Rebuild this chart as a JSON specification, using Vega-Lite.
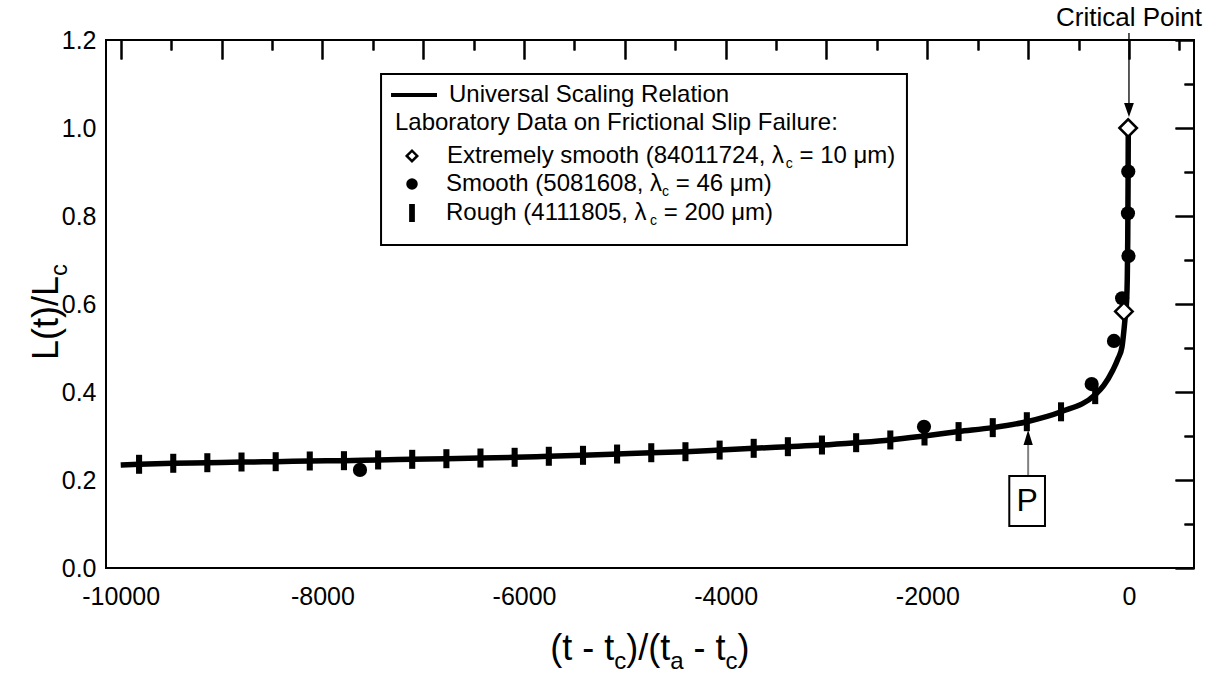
{
  "$schema": "https://vega.github.io/schema/vega-lite/v6.json",
  "width": 1088,
  "height": 528,
  "autosize": "none",
  "padding": {"left": 106, "top": 40, "right": 18, "bottom": 107},
  "background": "white",
  "datasets": {
    "curve": [
      {"x": -10000, "y": 0.234}, {"x": -9818, "y": 0.2357}, {"x": -9479, "y": 0.238}, {"x": -9141, "y": 0.2393},
      {"x": -8802, "y": 0.2409}, {"x": -8463, "y": 0.2416}, {"x": -8125, "y": 0.2432}, {"x": -7786, "y": 0.2439},
      {"x": -7447, "y": 0.2455}, {"x": -7109, "y": 0.247}, {"x": -6770, "y": 0.2484}, {"x": -6432, "y": 0.25},
      {"x": -6093, "y": 0.2516}, {"x": -5754, "y": 0.2539}, {"x": -5415, "y": 0.2561}, {"x": -5077, "y": 0.259},
      {"x": -4738, "y": 0.262}, {"x": -4399, "y": 0.2643}, {"x": -4060, "y": 0.268}, {"x": -3722, "y": 0.272},
      {"x": -3383, "y": 0.2757}, {"x": -3045, "y": 0.2795}, {"x": -2706, "y": 0.2848}, {"x": -2367, "y": 0.291},
      {"x": -2028, "y": 0.3}, {"x": -1690, "y": 0.31}, {"x": -1351, "y": 0.319}, {"x": -1013, "y": 0.3325},
      {"x": -674, "y": 0.355}, {"x": -335, "y": 0.394}, {"x": -250, "y": 0.415}, {"x": -159, "y": 0.45},
      {"x": -110, "y": 0.475}, {"x": -69, "y": 0.503}, {"x": -40, "y": 0.5636}, {"x": -23, "y": 0.609},
      {"x": -17, "y": 0.655}, {"x": -12, "y": 0.75}, {"x": -9, "y": 0.87}, {"x": -7, "y": 0.985}
    ],
    "rough": [
      {"x": -9818, "y": 0.2357}, {"x": -9479, "y": 0.238}, {"x": -9141, "y": 0.2393}, {"x": -8802, "y": 0.2409},
      {"x": -8463, "y": 0.2416}, {"x": -8125, "y": 0.2432}, {"x": -7786, "y": 0.2439}, {"x": -7447, "y": 0.2455},
      {"x": -7109, "y": 0.247}, {"x": -6770, "y": 0.2484}, {"x": -6432, "y": 0.25}, {"x": -6093, "y": 0.2516},
      {"x": -5754, "y": 0.2539}, {"x": -5415, "y": 0.2561}, {"x": -5077, "y": 0.259}, {"x": -4738, "y": 0.262},
      {"x": -4399, "y": 0.2643}, {"x": -4060, "y": 0.268}, {"x": -3722, "y": 0.272}, {"x": -3383, "y": 0.2757},
      {"x": -3045, "y": 0.2795}, {"x": -2706, "y": 0.2848}, {"x": -2367, "y": 0.291}, {"x": -2028, "y": 0.3},
      {"x": -1690, "y": 0.31}, {"x": -1351, "y": 0.319}, {"x": -1013, "y": 0.3325}, {"x": -674, "y": 0.355},
      {"x": -335, "y": 0.394}
    ],
    "smooth": [
      {"x": -7627, "y": 0.223}, {"x": -2033, "y": 0.321}, {"x": -370, "y": 0.418}, {"x": -149, "y": 0.516},
      {"x": -68, "y": 0.613}, {"x": -5, "y": 0.709}, {"x": -10, "y": 0.806}, {"x": -7, "y": 0.901}
    ],
    "extreme": [
      {"x": -50, "y": 0.583}, {"x": -8, "y": 1.0}
    ],
    "one": [{}]
  },
  "config": {
    "view": {"stroke": "black", "strokeWidth": 2},
    "font": "Liberation Sans",
    "axis": {"grid": false, "labelColor": "black", "tickColor": "black", "tickWidth": 2, "labelFont": "Liberation Sans", "labelFlush": false, "labelOverlap": false, "labelBound": false}
  },
  "resolve": {"axis": {"x": "independent", "y": "independent"}},
  "layer": [
    {
      "data": {"name": "curve"},
      "mark": {"type": "line", "color": "black", "strokeWidth": 5.5, "interpolate": "monotone"},
      "encoding": {
        "x": {"field": "x", "type": "quantitative", "scale": {"domain": [-10146, 645], "nice": false, "zero": false},
              "axis": {"values": [-10000, -8000, -6000, -4000, -2000, 0], "labelExpr": "'' + datum.value", "ticks": false, "domain": false, "labelFontSize": 25, "labelPadding": 16, "title": null}},
        "y": {"field": "y", "type": "quantitative", "scale": {"domain": [0, 1.2], "nice": false, "zero": false},
              "axis": {"values": [0, 0.2, 0.4, 0.6, 0.8, 1.0, 1.2], "format": ".1f", "ticks": false, "domain": false, "labelFontSize": 25, "labelPadding": 10, "title": null}}
      }
    },
    {
      "data": {"name": "rough"},
      "mark": {"type": "point", "shape": "M-0.32,-1L0.32,-1L0.32,1L-0.32,1Z", "size": 361, "filled": true, "color": "black", "opacity": 1},
      "encoding": {
        "x": {"field": "x", "type": "quantitative",
              "axis": {"values": [-10000, -9000, -8000, -7000, -6000, -5000, -4000, -3000, -2000, -1000, 0], "labels": false, "domain": false, "tickSize": -19, "title": null}},
        "y": {"field": "y", "type": "quantitative",
              "axis": {"values": [0, 0.2, 0.4, 0.6, 0.8, 1.0, 1.2], "labels": false, "domain": false, "tickSize": -19, "title": null}}
      }
    },
    {
      "data": {"name": "smooth"},
      "mark": {"type": "point", "shape": "circle", "size": 201, "filled": true, "color": "black", "opacity": 1},
      "encoding": {
        "x": {"field": "x", "type": "quantitative",
              "axis": {"values": [-9500, -8500, -7500, -6500, -5500, -4500, -3500, -2500, -1500, -500, 500], "labels": false, "domain": false, "tickSize": -10, "title": null}},
        "y": {"field": "y", "type": "quantitative",
              "axis": {"values": [0.1, 0.3, 0.5, 0.7, 0.9, 1.1], "labels": false, "domain": false, "tickSize": -10, "title": null}}
      }
    },
    {
      "data": {"name": "extreme"},
      "mark": {"type": "point", "shape": "diamond", "size": 306, "filled": true, "fill": "white", "stroke": "black", "strokeWidth": 2.5, "opacity": 1},
      "encoding": {
        "x": {"field": "x", "type": "quantitative",
              "axis": {"orient": "top", "values": [-10000, -9000, -8000, -7000, -6000, -5000, -4000, -3000, -2000, -1000, 0], "labels": false, "domain": false, "tickSize": -19, "title": null}},
        "y": {"field": "y", "type": "quantitative",
              "axis": {"orient": "right", "values": [0, 0.2, 0.4, 0.6, 0.8, 1.0, 1.2], "labels": false, "domain": false, "tickSize": -19, "title": null}}
      }
    },
    {
      "data": {"name": "extreme"},
      "mark": {"type": "point", "opacity": 0},
      "encoding": {
        "x": {"field": "x", "type": "quantitative",
              "axis": {"orient": "top", "values": [-9500, -8500, -7500, -6500, -5500, -4500, -3500, -2500, -1500, -500, 500], "labels": false, "domain": false, "tickSize": -10, "title": null}},
        "y": {"field": "y", "type": "quantitative",
              "axis": {"orient": "right", "values": [0.1, 0.3, 0.5, 0.7, 0.9, 1.1], "labels": false, "domain": false, "tickSize": -10, "title": null}}
      }
    },
    {
      "data": {"name": "one"},
      "mark": {"type": "rule", "color": "black", "strokeWidth": 1.3},
      "encoding": {"x": {"datum": 0, "type": "quantitative", "axis": null}, "y": {"datum": 1.216, "type": "quantitative", "axis": null}, "y2": {"datum": 1.05}}
    },
    {
      "data": {"name": "one"},
      "mark": {"type": "point", "shape": "M0,1L-0.7,-1L0.7,-1Z", "size": 196, "filled": true, "color": "black", "opacity": 1},
      "encoding": {"x": {"datum": 0, "type": "quantitative", "axis": null}, "y": {"datum": 1.041, "type": "quantitative", "axis": null}}
    },
    {
      "data": {"name": "one"},
      "mark": {"type": "text", "text": "Critical Point", "fontSize": 26, "align": "center", "baseline": "middle", "color": "black"},
      "encoding": {"x": {"datum": 0, "type": "quantitative", "axis": null}, "y": {"datum": 1.25, "type": "quantitative", "axis": null}}
    },
    {
      "data": {"name": "one"},
      "mark": {"type": "rule", "color": "#808080", "strokeWidth": 2},
      "encoding": {"x": {"datum": -1000, "type": "quantitative", "axis": null}, "y": {"datum": 0.209, "type": "quantitative", "axis": null}, "y2": {"datum": 0.285}}
    },
    {
      "data": {"name": "one"},
      "mark": {"type": "point", "shape": "M0,-1L0.62,1L-0.62,1Z", "size": 225, "filled": true, "color": "black", "opacity": 1},
      "encoding": {"x": {"datum": -1000, "type": "quantitative", "axis": null}, "y": {"datum": 0.2966, "type": "quantitative", "axis": null}}
    },
    {
      "data": {"name": "one"},
      "mark": {"type": "rect", "fill": "white", "stroke": "black", "strokeWidth": 2},
      "encoding": {"x": {"datum": -1187, "type": "quantitative", "axis": null}, "x2": {"datum": -833}, "y": {"datum": 0.0955, "type": "quantitative", "axis": null}, "y2": {"datum": 0.209}}
    },
    {
      "data": {"name": "one"},
      "mark": {"type": "text", "text": "P", "fontSize": 32, "align": "center", "baseline": "middle", "color": "black"},
      "encoding": {"x": {"datum": -1010, "type": "quantitative", "axis": null}, "y": {"datum": 0.1523, "type": "quantitative", "axis": null}}
    },
    {
      "data": {"name": "one"},
      "mark": {"type": "rect", "fill": "white", "stroke": "black", "strokeWidth": 2},
      "encoding": {"x": {"datum": -7418, "type": "quantitative", "axis": null}, "x2": {"datum": -2202}, "y": {"datum": 0.734, "type": "quantitative", "axis": null}, "y2": {"datum": 1.1227}}
    },
    {
      "data": {"name": "one"},
      "mark": {"type": "rule", "color": "black", "strokeWidth": 4},
      "encoding": {"x": {"datum": -7319, "type": "quantitative", "axis": null}, "x2": {"datum": -6863}, "y": {"datum": 1.075, "type": "quantitative", "axis": null}}
    },
    {
      "data": {"name": "one"},
      "mark": {"type": "text", "text": "Universal Scaling Relation", "fontSize": 24, "align": "left", "baseline": "middle", "color": "black"},
      "encoding": {"x": {"datum": -6744, "type": "quantitative", "axis": null}, "y": {"datum": 1.075, "type": "quantitative", "axis": null}}
    },
    {
      "data": {"name": "one"},
      "mark": {"type": "text", "text": "Laboratory Data on Frictional Slip Failure:", "fontSize": 24, "align": "left", "baseline": "middle", "color": "black"},
      "encoding": {"x": {"datum": -7280, "type": "quantitative", "axis": null}, "y": {"datum": 1.0114, "type": "quantitative", "axis": null}}
    },
    {
      "data": {"name": "one"},
      "mark": {"type": "point", "shape": "diamond", "size": 110, "filled": true, "fill": "white", "stroke": "black", "strokeWidth": 2.5, "opacity": 1},
      "encoding": {"x": {"datum": -7111, "type": "quantitative", "axis": null}, "y": {"datum": 0.9364, "type": "quantitative", "axis": null}}
    },
    {
      "data": {"name": "one"},
      "mark": {"type": "point", "shape": "circle", "size": 133, "filled": true, "color": "black", "opacity": 1},
      "encoding": {"x": {"datum": -7111, "type": "quantitative", "axis": null}, "y": {"datum": 0.8727, "type": "quantitative", "axis": null}}
    },
    {
      "data": {"name": "one"},
      "mark": {"type": "point", "shape": "M-0.32,-1L0.32,-1L0.32,1L-0.32,1Z", "size": 324, "filled": true, "color": "black", "opacity": 1},
      "encoding": {"x": {"datum": -7111, "type": "quantitative", "axis": null}, "y": {"datum": 0.8068, "type": "quantitative", "axis": null}}
    },
    {
      "data": {"name": "one"},
      "mark": {"type": "text", "text": "Extremely smooth (84011724, λ", "fontSize": 24, "align": "left", "baseline": "middle", "color": "black"},
      "encoding": {"x": {"datum": -6764, "type": "quantitative", "axis": null}, "y": {"datum": 0.9364, "type": "quantitative", "axis": null}}
    },
    {
      "data": {"name": "one"},
      "mark": {"type": "text", "text": "c", "fontSize": 14, "align": "left", "baseline": "middle", "color": "black"},
      "encoding": {"x": {"datum": -3404, "type": "quantitative", "axis": null}, "y": {"datum": 0.9174, "type": "quantitative", "axis": null}}
    },
    {
      "data": {"name": "one"},
      "mark": {"type": "text", "text": "= 10 μm)", "fontSize": 24, "align": "left", "baseline": "middle", "color": "black"},
      "encoding": {"x": {"datum": -3268, "type": "quantitative", "axis": null}, "y": {"datum": 0.9364, "type": "quantitative", "axis": null}}
    },
    {
      "data": {"name": "one"},
      "mark": {"type": "text", "text": "Smooth (5081608, λ", "fontSize": 24, "align": "left", "baseline": "middle", "color": "black"},
      "encoding": {"x": {"datum": -6774, "type": "quantitative", "axis": null}, "y": {"datum": 0.8727, "type": "quantitative", "axis": null}}
    },
    {
      "data": {"name": "one"},
      "mark": {"type": "text", "text": "c", "fontSize": 14, "align": "left", "baseline": "middle", "color": "black"},
      "encoding": {"x": {"datum": -4631, "type": "quantitative", "axis": null}, "y": {"datum": 0.8537, "type": "quantitative", "axis": null}}
    },
    {
      "data": {"name": "one"},
      "mark": {"type": "text", "text": "= 46 μm)", "fontSize": 24, "align": "left", "baseline": "middle", "color": "black"},
      "encoding": {"x": {"datum": -4495, "type": "quantitative", "axis": null}, "y": {"datum": 0.8727, "type": "quantitative", "axis": null}}
    },
    {
      "data": {"name": "one"},
      "mark": {"type": "text", "text": "Rough (4111805, λ", "fontSize": 24, "align": "left", "baseline": "middle", "color": "black"},
      "encoding": {"x": {"datum": -6774, "type": "quantitative", "axis": null}, "y": {"datum": 0.8068, "type": "quantitative", "axis": null}}
    },
    {
      "data": {"name": "one"},
      "mark": {"type": "text", "text": "c", "fontSize": 14, "align": "left", "baseline": "middle", "color": "black"},
      "encoding": {"x": {"datum": -4750, "type": "quantitative", "axis": null}, "y": {"datum": 0.7878, "type": "quantitative", "axis": null}}
    },
    {
      "data": {"name": "one"},
      "mark": {"type": "text", "text": "= 200 μm)", "fontSize": 24, "align": "left", "baseline": "middle", "color": "black"},
      "encoding": {"x": {"datum": -4614, "type": "quantitative", "axis": null}, "y": {"datum": 0.8068, "type": "quantitative", "axis": null}}
    },
    {
      "data": {"name": "one"},
      "mark": {"type": "text", "text": "(t - t", "fontSize": 36, "align": "left", "baseline": "alphabetic", "color": "black"},
      "encoding": {"x": {"datum": -5739, "type": "quantitative", "axis": null}, "y": {"datum": -0.2091, "type": "quantitative", "axis": null}}
    },
    {
      "data": {"name": "one"},
      "mark": {"type": "text", "text": "c", "fontSize": 24, "align": "left", "baseline": "alphabetic", "color": "black"},
      "encoding": {"x": {"datum": -5105, "type": "quantitative", "axis": null}, "y": {"datum": -0.2295, "type": "quantitative", "axis": null}}
    },
    {
      "data": {"name": "one"},
      "mark": {"type": "text", "text": ")/(t", "fontSize": 36, "align": "left", "baseline": "alphabetic", "color": "black"},
      "encoding": {"x": {"datum": -4986, "type": "quantitative", "axis": null}, "y": {"datum": -0.2091, "type": "quantitative", "axis": null}}
    },
    {
      "data": {"name": "one"},
      "mark": {"type": "text", "text": "a", "fontSize": 24, "align": "left", "baseline": "alphabetic", "color": "black"},
      "encoding": {"x": {"datum": -4549, "type": "quantitative", "axis": null}, "y": {"datum": -0.2295, "type": "quantitative", "axis": null}}
    },
    {
      "data": {"name": "one"},
      "mark": {"type": "text", "text": "- t", "fontSize": 36, "align": "left", "baseline": "alphabetic", "color": "black"},
      "encoding": {"x": {"datum": -4318, "type": "quantitative", "axis": null}, "y": {"datum": -0.2091, "type": "quantitative", "axis": null}}
    },
    {
      "data": {"name": "one"},
      "mark": {"type": "text", "text": "c", "fontSize": 24, "align": "left", "baseline": "alphabetic", "color": "black"},
      "encoding": {"x": {"datum": -4001, "type": "quantitative", "axis": null}, "y": {"datum": -0.2295, "type": "quantitative", "axis": null}}
    },
    {
      "data": {"name": "one"},
      "mark": {"type": "text", "text": ")", "fontSize": 36, "align": "left", "baseline": "alphabetic", "color": "black"},
      "encoding": {"x": {"datum": -3882, "type": "quantitative", "axis": null}, "y": {"datum": -0.2091, "type": "quantitative", "axis": null}}
    },
    {
      "data": {"name": "one"},
      "mark": {"type": "text", "text": "L(t)/L", "fontSize": 36, "angle": 270, "align": "left", "baseline": "alphabetic", "color": "black"},
      "encoding": {"x": {"datum": -10622, "type": "quantitative", "axis": null}, "y": {"datum": 0.4727, "type": "quantitative", "axis": null}}
    },
    {
      "data": {"name": "one"},
      "mark": {"type": "text", "text": "c", "fontSize": 24, "angle": 270, "align": "left", "baseline": "alphabetic", "color": "black"},
      "encoding": {"x": {"datum": -10533, "type": "quantitative", "axis": null}, "y": {"datum": 0.6636, "type": "quantitative", "axis": null}}
    }
  ]
}
